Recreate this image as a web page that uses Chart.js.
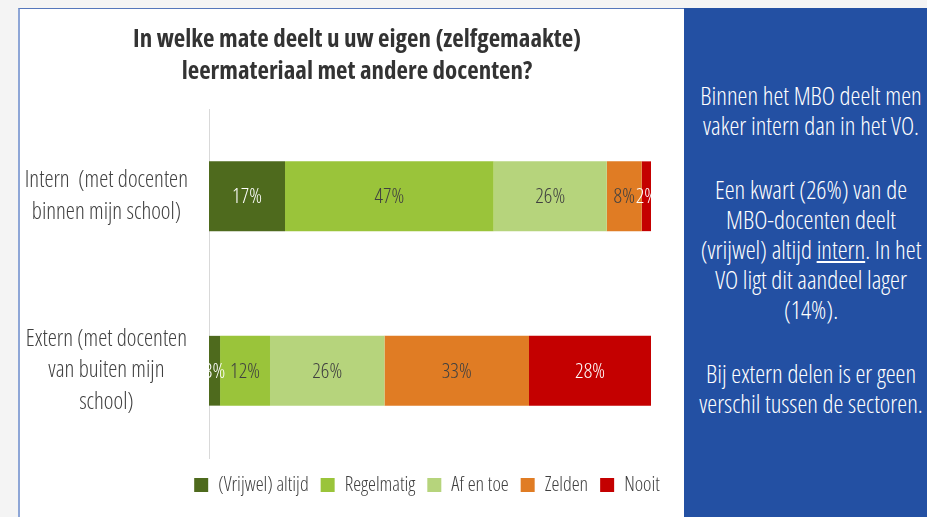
<!DOCTYPE html>
<html>
<head>
<meta charset="utf-8">
<script src="https://cdn.jsdelivr.net/npm/chart.js@4"></script>
<style>
  html, body { margin: 0; padding: 0; background: #f4f4f4; width: 927px; height: 517px; overflow: hidden; }
  #panel {
    position: absolute; left: 18px; top: 8px; width: 666px; height: 509px;
    background: #fff; border-left: 2px solid #8ea6d6; border-top: 1px solid #5577bb;
    box-sizing: border-box;
  }
  #chartWrap { position: absolute; left: 0; top: 0; width: 664px; height: 508px; }
  #side {
    position: absolute; left: 684px; top: 8px; width: 243px; height: 509px;
    background: #2350a3; color: #fff; overflow: hidden;
    font-family: "Open Sans", sans-serif; font-stretch: 75%; font-weight: 300;
    font-size: 25px; line-height: 30px;
  }
  #side .line { position: relative; height: 30px; }
  #side p { position: absolute; left: 127px; top: 0; margin: 0; white-space: nowrap; transform: translateX(-50%); }
  #side .gap { height: 34px; }
</style>
</head>
<body>
<div id="panel"><div id="chartWrap"><canvas id="chart"></canvas></div></div>
<div id="side">
  <div style="height:72px"></div>
  <div class="line"><p>Binnen het MBO deelt men</p></div>
  <div class="line"><p>vaker intern dan in het VO.</p></div>
  <div class="gap"></div>
  <div class="line"><p>Een kwart (26%) van de</p></div>
  <div class="line"><p>MBO-docenten deelt</p></div>
  <div class="line"><p>(vrijwel) altijd <u>intern</u>. In het</p></div>
  <div class="line"><p>VO ligt dit aandeel lager</p></div>
  <div class="line"><p>(14%).</p></div>
  <div class="gap"></div>
  <div class="line"><p>Bij extern delen is er geen</p></div>
  <div class="line"><p>verschil tussen de sectoren.</p></div>
</div>
<script>
const FONT = '"Open Sans", sans-serif';

// categories (y axis)
const categories = [
  ['Intern  (met docenten', 'binnen mijn school)'],
  ['Extern (met docenten', 'van buiten mijn', 'school)']
];
const seriesNames = ['(Vrijwel) altijd', 'Regelmatig', 'Af en toe', 'Zelden', 'Nooit'];
const seriesColors = ['#4e6a1d', '#9ac43a', '#b6d47c', '#e07c24', '#c40000'];
const labelColors = ['#ffffff', '#404040', '#404040', '#404040', '#ffffff'];

// bar lengths (share of 100%)
const altijd     = [17.2, 2.5];
const regelmatig = [47.2, 11.3];
const afEnToe    = [25.6, 25.9];
const zelden     = [7.9, 32.7];
const nooit      = [2.1, 27.6];

// printed labels
const altijdLabels     = ['17%', '3%'];
const regelmatigLabels = ['47%', '12%'];
const afEnToeLabels    = ['26%', '26%'];
const zeldenLabels     = ['8%', '33%'];
const nooitLabels      = ['2%', '28%'];

const values = [altijd, regelmatig, afEnToe, zelden, nooit];
const labels = [altijdLabels, regelmatigLabels, afEnToeLabels, zeldenLabels, nooitLabels];

const barLabels = {
  id: 'barLabels',
  afterLayout(chart) {
    // legend sits under the plot area, title over the page like the original
    chart.legend.left = 107;
    chart.legend.right = 707;
    chart.legend.top += 5;
    chart.legend.bottom += 5;
    chart.legend.adjustHitBoxes();
    chart.titleBlock.left = 37;
    chart.titleBlock.right = 637;
  },
  afterDatasetsDraw(chart) {
    const ctx = chart.ctx;
    const area = chart.chartArea;
    ctx.save();
    ctx.beginPath();
    ctx.rect(area.left, area.top, area.right - area.left, area.bottom - area.top);
    ctx.clip();
    ctx.font = 'condensed 300 21px ' + FONT;
    ctx.textAlign = 'center';
    ctx.textBaseline = 'middle';
    chart.data.datasets.forEach((ds, i) => {
      const meta = chart.getDatasetMeta(i);
      meta.data.forEach((bar, j) => {
        ctx.fillStyle = labelColors[i];
        ctx.fillText(labels[i][j], (bar.x + bar.base) / 2, bar.y + 1);
      });
    });
    ctx.restore();
  }
};

new Chart(document.getElementById('chart'), {
  type: 'bar',
  data: {
    labels: categories,
    datasets: seriesNames.map((name, i) => ({
      label: name,
      data: values[i],
      backgroundColor: seriesColors[i],
      borderWidth: 0,
      barPercentage: 0.4,
      categoryPercentage: 1
    }))
  },
  options: {
    indexAxis: 'y',
    responsive: true,
    maintainAspectRatio: false,
    animation: false,
    layout: { padding: { left: 0, right: 33, top: 15, bottom: 17 } },
    scales: {
      x: { stacked: true, min: 0, max: 100, display: false },
      y: {
        stacked: true,
        grid: { display: false },
        border: { display: true, color: '#d9d9d9', width: 1 },
        ticks: {
          color: '#404040',
          font: { family: FONT, size: 23, weight: 'condensed 300', lineHeight: 1.38 },
          crossAlign: 'center',
          padding: 13
        },
        afterFit(scale) { scale.width = 189; }
      }
    },
    plugins: {
      title: {
        display: true,
        text: ['In welke mate deelt u uw eigen (zelfgemaakte)', 'leermateriaal met andere docenten?'],
        color: '#333333',
        font: { family: FONT, size: 25, weight: 'condensed bold', lineHeight: 1.28 },
        padding: { top: 0, bottom: 21 }
      },
      legend: {
        position: 'bottom',
        labels: {
          color: '#404040',
          font: { family: FONT, size: 20, weight: 'condensed 300' },
          boxWidth: 14,
          boxHeight: 14,
          padding: 12
        }
      },
      tooltip: { enabled: false }
    }
  },
  plugins: [barLabels]
});
</script>
</body>
</html>
